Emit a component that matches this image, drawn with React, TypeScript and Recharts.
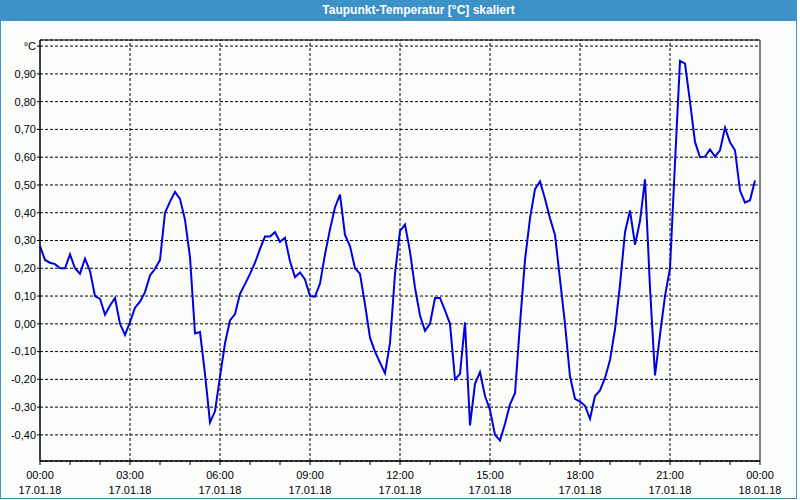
import { LineChart, Line, XAxis, YAxis, CartesianGrid, ReferenceLine, ReferenceArea } from "recharts";

// dew point, 10-minute samples from 00:00 to 23:50
const dewPoint = [
  0.28, 0.23, 0.22, 0.215, 0.2, 0.2, 0.25, 0.2, 0.18, 0.235, 0.19, 0.1,
  0.09, 0.033, 0.066, 0.093, 0.0, -0.04, 0.006, 0.058, 0.08, 0.114, 0.174, 0.198,
  0.23, 0.4, 0.44, 0.475, 0.45, 0.375, 0.24, -0.035, -0.03, -0.18, -0.355, -0.315,
  -0.19, -0.07, 0.012, 0.035, 0.108, 0.143, 0.18, 0.22, 0.27, 0.314, 0.314, 0.33,
  0.295, 0.31, 0.225, 0.168, 0.185, 0.16, 0.1, 0.098, 0.145, 0.25, 0.34, 0.42,
  0.465, 0.32, 0.28, 0.2, 0.18, 0.07, -0.05, -0.1, -0.14, -0.178, -0.07, 0.18,
  0.335, 0.357, 0.26, 0.13, 0.03, -0.025, 0.0, 0.093, 0.093, 0.048, 0.0, -0.2,
  -0.18, 0.005, -0.366, -0.216, -0.174, -0.26, -0.31, -0.4, -0.42, -0.36, -0.29, -0.25,
  0.0, 0.23, 0.38, 0.485, 0.513, 0.45, 0.38, 0.32, 0.16, 0.0, -0.19, -0.27,
  -0.28, -0.295, -0.342, -0.26, -0.24, -0.195, -0.13, -0.02, 0.14, 0.33, 0.408, 0.285,
  0.37, 0.52, 0.13, -0.186, -0.04, 0.1, 0.2, 0.58, 0.947, 0.937, 0.8, 0.655,
  0.6, 0.602, 0.628, 0.602, 0.625, 0.706, 0.654, 0.625, 0.48, 0.436, 0.445, 0.516,
];

const hourTicks = [0, 1, 2, 3, 4, 5, 6, 7, 8, 9, 10, 11, 12, 13, 14, 15, 16, 17, 18, 19, 20, 21, 22, 23, 24];
const gridHours = [3, 6, 9, 12, 15, 18, 21];
const timeLabels = ["00:00", "03:00", "06:00", "09:00", "12:00", "15:00", "18:00", "21:00", "00:00"];
const dateLabels = ["17.01.18", "17.01.18", "17.01.18", "17.01.18", "17.01.18", "17.01.18", "17.01.18", "17.01.18", "18.01.18"];
const yTicks = [-0.4, -0.3, -0.2, -0.1, 0, 0.1, 0.2, 0.3, 0.4, 0.5, 0.6, 0.7, 0.8, 0.9, 1.0];
const yMin = -0.494;
const yMax = 1.022;

const data = dewPoint.map((v, i) => ({ hour: i / 6, value: v }));

const FONT = "'Liberation Sans', Arial, sans-serif";
const DASH = "3 2";

function formatY(v: number) {
  if (v >= 0.999) return "°C";
  return v.toFixed(2).replace(".", ",");
}

function HourTick(props: any) {
  const { x, y, payload } = props;
  const h = payload.value;
  if (h % 3 !== 0) return <g />;
  const idx = h / 3;
  return (
    <g>
      <text x={x} y={y + 12} textAnchor="middle" fontSize={11} fontFamily={FONT} fill="#000">
        {timeLabels[idx]}
      </text>
      <text x={x} y={y + 27} textAnchor="middle" fontSize={11} fontFamily={FONT} fill="#000">
        {dateLabels[idx]}
      </text>
    </g>
  );
}

export default function App() {
  return (
    <div style={{ position: "fixed", left: 0, top: 0, width: 800, height: 500, background: "#fff" }}>
      <div
        style={{
          position: "absolute",
          left: 0,
          top: 0,
          width: 797,
          height: 499,
          boxSizing: "border-box",
          border: "1px solid #3c91c6",
          background: "#fbfdfb",
        }}
      />
      <div
        style={{
          position: "absolute",
          left: 0,
          top: 0,
          width: 797,
          height: 21,
          background: "#3c91c6",
          color: "#fff",
          fontFamily: FONT,
          fontWeight: "bold",
          fontSize: 12,
          lineHeight: "21px",
          textAlign: "center",
          paddingLeft: 40,
          boxSizing: "border-box",
        }}
      >
        Taupunkt-Temperatur [°C] skaliert
      </div>
      <div style={{ position: "absolute", left: 0, top: 0 }}>
        <LineChart width={800} height={500} data={data} margin={{ top: 40, right: 40, bottom: 0, left: 0 }}>
          <CartesianGrid vertical={false} stroke="#000" strokeDasharray={DASH} />
          {gridHours.map((h) => (
            <ReferenceLine key={h} x={h} stroke="#000" strokeDasharray={DASH} />
          ))}
          <XAxis
            dataKey="hour"
            type="number"
            domain={[0, 24]}
            ticks={hourTicks}
            interval={0}
            height={39}
            tickSize={4}
            tickMargin={2}
            stroke="#000"
            tickLine={{ stroke: "#000" }}
            axisLine={{ stroke: "#000" }}
            tick={<HourTick />}
          />
          <YAxis
            type="number"
            domain={[yMin, yMax]}
            ticks={yTicks}
            interval={0}
            width={40}
            tickSize={3}
            tickMargin={1}
            allowDataOverflow
            tickFormatter={formatY}
            tick={{ fill: "#000", fontSize: 11, fontFamily: FONT }}
            tickLine={{ stroke: "#000" }}
            axisLine={{ stroke: "#000" }}
          />
          <ReferenceArea x1={0} x2={24} y1={yMin} y2={yMax} fill="none" stroke="#000" strokeOpacity={1} ifOverflow="visible" />
          <Line
            type="linear"
            dataKey="value"
            stroke="#0000e0"
            strokeWidth={2}
            dot={false}
            isAnimationActive={false}
          />
        </LineChart>
      </div>
    </div>
  );
}
